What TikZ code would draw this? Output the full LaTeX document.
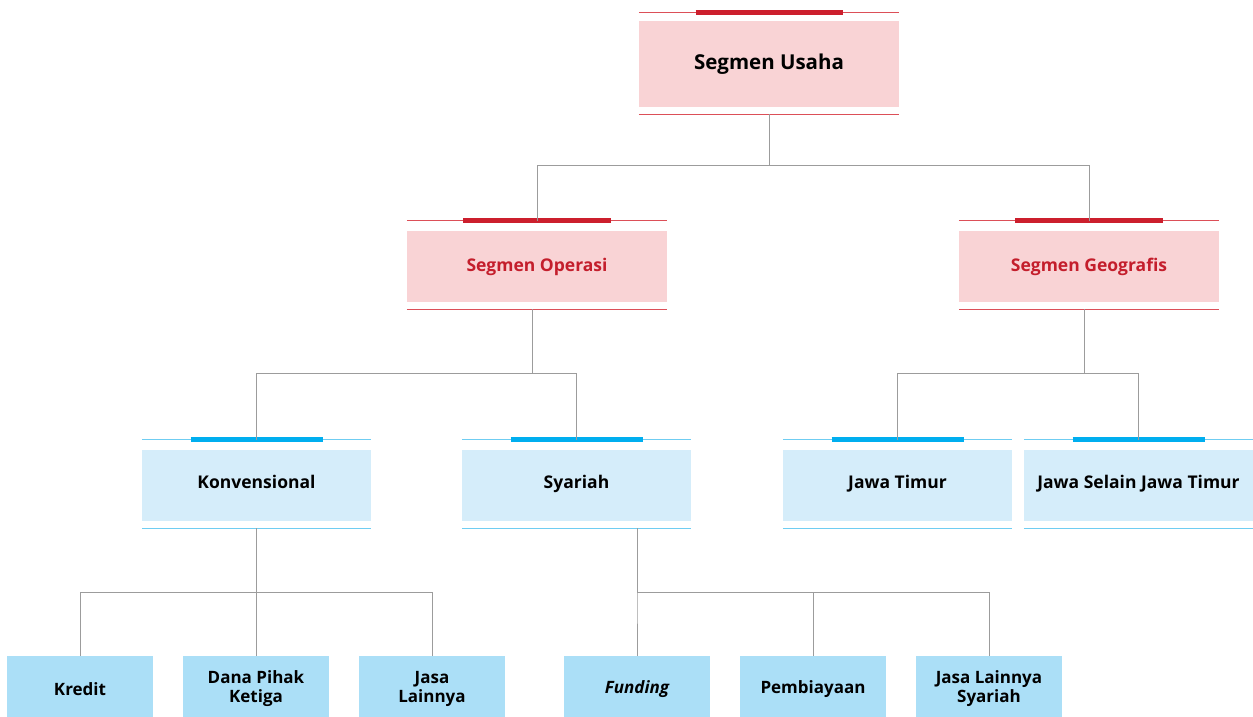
\documentclass[tikz,border=0pt]{standalone}
\usepackage{fontspec}
\setmainfont{Open Sans}
\usetikzlibrary{positioning}
\definecolor{pinkfill}{HTML}{F9D3D5}
\definecolor{redbar}{HTML}{CC1F2D}
\definecolor{redline}{HTML}{DC4F58}
\definecolor{redtext}{HTML}{C41E2C}
\definecolor{bluefill}{HTML}{D5EDFA}
\definecolor{bluebar}{HTML}{00AEEF}
\definecolor{blueline}{HTML}{6FCDF2}
\definecolor{leaffill}{HTML}{ABDFF7}
\definecolor{conngray}{HTML}{9C9C9C}
\tikzset{
	unit/.style={rectangle,align=center,inner sep=0pt},
	lvlone/.style={unit,fill=pinkfill,minimum width=260pt,minimum height=86pt,text height=16pt,text depth=4.4pt,font=\bfseries\fontsize{20.5}{24}\selectfont},
	lvltwo/.style={unit,fill=pinkfill,minimum width=260pt,minimum height=71pt,text height=14pt,text depth=4.5pt,text=redtext,font=\bfseries\fontsize{17.5}{21}\selectfont},
	lvlthree/.style={unit,fill=bluefill,minimum width=229pt,minimum height=71pt,text height=13pt,text depth=6.5pt,font=\bfseries\fontsize{17.5}{21}\selectfont},
	leaf/.style={unit,fill=leaffill,minimum width=146pt,minimum height=66pt,font=\bfseries\fontsize{17}{19}\selectfont},
	conn/.style={draw=conngray,line width=1pt},
	redthin/.style={draw=redline,line width=1pt},
	redthick/.style={draw=redbar,line width=5pt},
	bluethin/.style={draw=blueline,line width=1pt},
	bluethick/.style={draw=bluebar,line width=5pt}
}

\begin{document}
\begin{tikzpicture}[x=1pt,y=-1pt]
			\useasboundingbox (0,0) rectangle (1253,716);
			\node[lvlone] (su) at (769,64) {Segmen Usaha};
			\node[lvltwo] (so) at (537,266.5) {Segmen Operasi};
			\node[lvltwo] (sg) at (1089,266.5) {Segmen Geografis};
			\node[lvlthree] (kv) at (256.5,485.5) {Konvensional};
			\node[lvlthree] (sy) at (576.5,485.5) {Syariah};
			\node[lvlthree] (jt) at (897.5,485.5) {Jawa Timur};
			\node[lvlthree] (jo) at (1138.5,485.5) {Jawa Selain Jawa Timur};
			\node[leaf] (kr) at (80,689) {Kredit};
			\node[leaf] (dp) at (256,689) {Dana Pihak\\Ketiga};
			\node[leaf] (jk) at (432,689) {Jasa\\Lainnya};
			\node[leaf] (fu) at (637,689) {\itshape Funding};
			\node[leaf] (pb) at (813,689) {Pembiayaan};
			\node[leaf] (js) at (989,689) {Jasa Lainnya\\Syariah};
			
			% rules above and below the boxes
			\draw[redthin] ([yshift=8pt]su.north west) -- ([yshift=8pt]su.north east);
			\draw[redthin] ([yshift=-7pt]su.south west) -- ([yshift=-7pt]su.south east);
			\draw[redthick] ([xshift=-73.5pt,yshift=8pt]su.north) -- ([xshift=73.5pt,yshift=8pt]su.north);
			\foreach \n in {so,sg}{
				\draw[redthin] ([yshift=10pt]\n.north west) -- ([yshift=10pt]\n.north east);
				\draw[redthin] ([yshift=-7pt]\n.south west) -- ([yshift=-7pt]\n.south east);
				\draw[redthick] ([xshift=-74pt,yshift=10pt]\n.north) -- ([xshift=74pt,yshift=10pt]\n.north);
			}
			\foreach \n in {kv,sy,jt,jo}{
				\draw[bluethin] ([yshift=10pt]\n.north west) -- ([yshift=10pt]\n.north east);
				\draw[bluethin] ([yshift=-7pt]\n.south west) -- ([yshift=-7pt]\n.south east);
				\draw[bluethick] ([xshift=-66pt,yshift=10pt]\n.north) -- ([xshift=66pt,yshift=10pt]\n.north);
			}
			
			% connectors
			\coordinate (sub) at ([yshift=-7pt]su.south);
			\draw[conn] (sub) -- ++(0,51) -| ([yshift=10pt]so.north);
			\draw[conn] (sub) -- ++(0,51) -| ([yshift=10pt]sg.north);
			\coordinate (sob) at ([xshift=-5pt,yshift=-7pt]so.south);
			\draw[conn] (sob) -- ++(0,64) -| ([yshift=10pt]kv.north);
			\draw[conn] (sob) -- ++(0,64) -| ([yshift=10pt]sy.north);
			\coordinate (sgb) at ([xshift=-5pt,yshift=-7pt]sg.south);
			\draw[conn] (sgb) -- ++(0,64) -| ([yshift=10pt]jt.north);
			\draw[conn] (sgb) -- ++(0,64) -| ([yshift=10pt]jo.north);
			\coordinate (kvb) at ([yshift=-7pt]kv.south);
			\foreach \n in {kr,dp,jk}
				\draw[conn] (kvb) -- ++(0,64) -| (\n.north);
			\coordinate (syb) at ([xshift=60.5pt,yshift=-7pt]sy.south);
			\foreach \n in {fu,pb,js}
				\draw[conn] (syb) -- ++(0,64) -| (\n.north);
		\end{tikzpicture}
\end{document}
